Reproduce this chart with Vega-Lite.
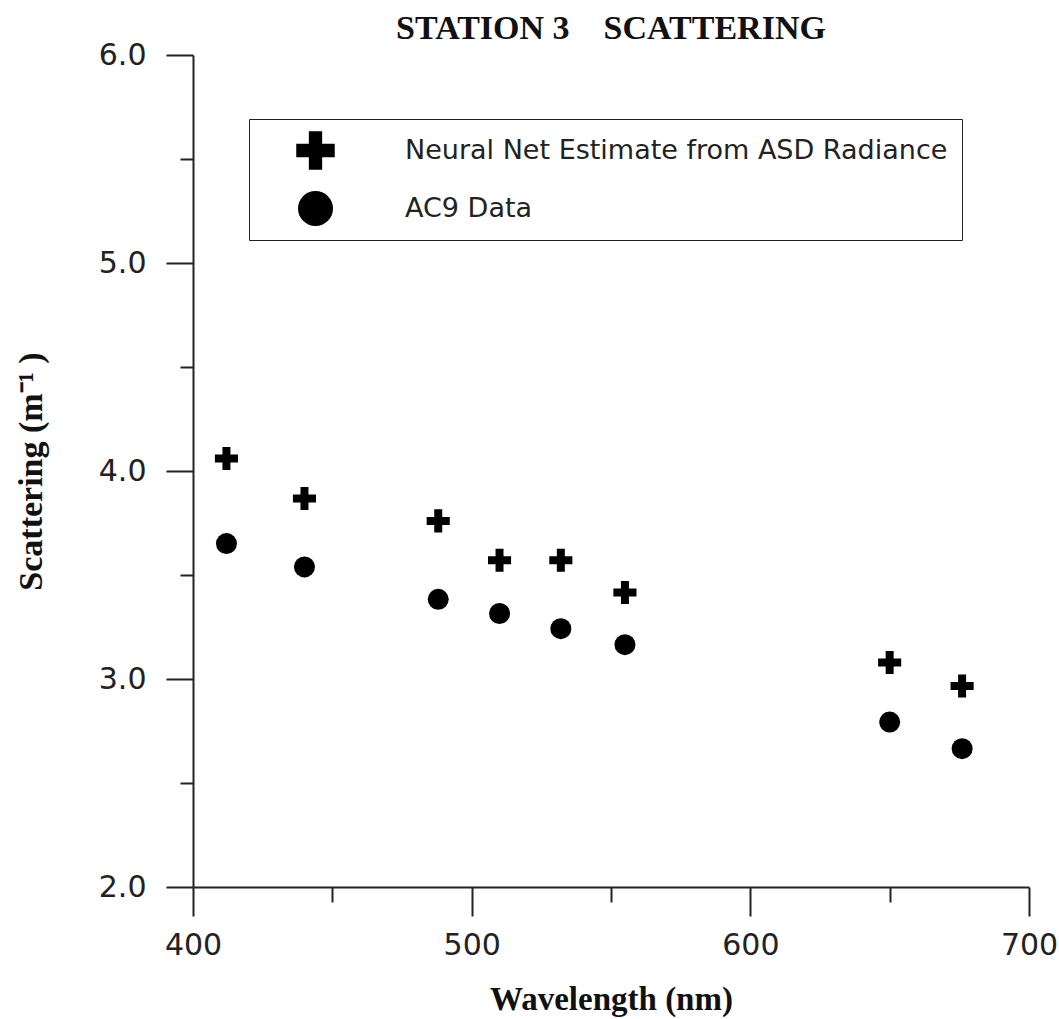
{
  "$schema": "https://vega.github.io/schema/vega-lite/v6.json",
  "autosize": {"type": "none"},
  "width": 836,
  "height": 832,
  "padding": {"left": 193, "top": 55, "right": 30, "bottom": 132},
  "background": "white",
  "title": {
    "text": "STATION 3\u2003SCATTERING",
    "font": "Liberation Serif",
    "fontSize": 34,
    "fontWeight": "bold",
    "color": "#111",
    "anchor": "middle",
    "offset": -6
  },
  "data": {
    "values": [
      {"wavelength": 412, "scattering": 4.060, "series": "Neural Net Estimate from ASD Radiance"},
      {"wavelength": 440, "scattering": 3.868, "series": "Neural Net Estimate from ASD Radiance"},
      {"wavelength": 488, "scattering": 3.760, "series": "Neural Net Estimate from ASD Radiance"},
      {"wavelength": 510, "scattering": 3.571, "series": "Neural Net Estimate from ASD Radiance"},
      {"wavelength": 532, "scattering": 3.571, "series": "Neural Net Estimate from ASD Radiance"},
      {"wavelength": 555, "scattering": 3.416, "series": "Neural Net Estimate from ASD Radiance"},
      {"wavelength": 650, "scattering": 3.079, "series": "Neural Net Estimate from ASD Radiance"},
      {"wavelength": 676, "scattering": 2.966, "series": "Neural Net Estimate from ASD Radiance"},
      {"wavelength": 412, "scattering": 3.651, "series": "AC9 Data"},
      {"wavelength": 440, "scattering": 3.539, "series": "AC9 Data"},
      {"wavelength": 488, "scattering": 3.383, "series": "AC9 Data"},
      {"wavelength": 510, "scattering": 3.315, "series": "AC9 Data"},
      {"wavelength": 532, "scattering": 3.242, "series": "AC9 Data"},
      {"wavelength": 555, "scattering": 3.165, "series": "AC9 Data"},
      {"wavelength": 650, "scattering": 2.793, "series": "AC9 Data"},
      {"wavelength": 676, "scattering": 2.665, "series": "AC9 Data"}
    ]
  },
  "mark": {"type": "point", "filled": true, "color": "black", "opacity": 1, "size": 441, "strokeWidth": 0},
  "encoding": {
    "x": {
      "field": "wavelength",
      "type": "quantitative",
      "scale": {"domain": [400, 700], "nice": false, "zero": false},
      "axis": {
        "title": "Wavelength (nm)",
        "values": [400, 450, 500, 550, 600, 650, 700],
        "labelExpr": "datum.value % 100 === 0 ? datum.label : ''",
        "labelOverlap": false,
        "labelFlush": false,
        "grid": false,
        "tickSize": {"expr": "datum.value % 100 === 0 ? 29 : 15"}
      }
    },
    "y": {
      "field": "scattering",
      "type": "quantitative",
      "scale": {"domain": [2, 6], "nice": false, "zero": false},
      "axis": {
        "title": "Scattering (m\u207b\u00b9 )",
        "values": [2, 2.5, 3, 3.5, 4, 4.5, 5, 5.5, 6],
        "format": ".1f",
        "labelExpr": "datum.value % 1 === 0 ? datum.label : ''",
        "labelOverlap": false,
        "labelFlush": false,
        "grid": false,
        "tickSize": {"expr": "datum.value % 1 === 0 ? 27 : 13"}
      }
    },
    "shape": {
      "field": "series",
      "type": "nominal",
      "scale": {
        "domain": ["Neural Net Estimate from ASD Radiance", "AC9 Data"],
        "range": ["M-1.1,-0.38H-0.38V-1.1H0.38V-0.38H1.1V0.38H0.38V1.1H-0.38V0.38H-1.1Z", "circle"]
      },
      "legend": {
        "title": null,
        "orient": "none",
        "legendX": 56,
        "legendY": 64,
        "padding": 14,
        "rowPadding": 21,
        "symbolSize": 1225,
        "symbolOffset": 35,
        "labelOffset": 72,
        "symbolFillColor": "black",
        "symbolStrokeWidth": 0,
        "labelFont": "DejaVu Sans",
        "labelFontSize": 27,
        "labelColor": "#222",
        "labelLimit": 800,
        "strokeColor": "#222",
        "fillColor": "white",
        "encode": {"legend": {"update": {"strokeWidth": {"value": 2}}}}
      }
    }
  },
  "config": {
    "view": {"stroke": null},
    "axis": {
      "domainColor": "#222",
      "domainWidth": 2,
      "tickColor": "#222",
      "tickWidth": 2,
      "labelFont": "DejaVu Sans",
      "labelFontSize": 30,
      "labelColor": "#222",
      "labelPadding": 14,
      "titleFont": "Liberation Serif",
      "titleFontWeight": "bold",
      "titleColor": "#111"
    },
    "axisX": {"titlePadding": 23, "titleFontSize": 33},
    "axisY": {"titlePadding": 50, "labelPadding": 20, "titleFontSize": 34}
  }
}
